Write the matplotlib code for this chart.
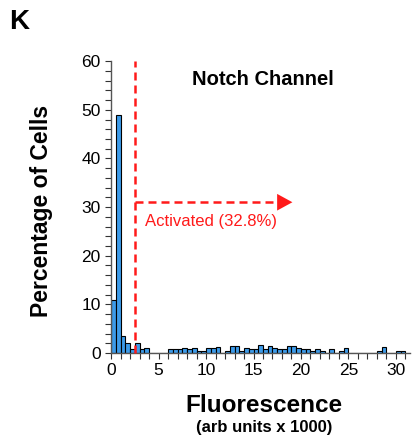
import numpy as np
import matplotlib
matplotlib.use("Agg")
import matplotlib.pyplot as plt
from matplotlib.ticker import MultipleLocator

plt.rcParams['font.family'] = ['Liberation Sans', 'DejaVu Sans']

# Гистограмма: левые края бинов (ширина 0.5) и проценты клеток
bin_width = 0.5
bin_left = np.arange(0, 31, bin_width)
pct_cells = [
    11, 49, 3.5, 2.0, 0.8, 2.0, 0.8, 1.1,      # 0 - 4
    0, 0, 0, 0,                                 # 4 - 6
    0.75, 0.75, 0.75, 1.0, 0.75, 1.1, 0.4, 0.4,  # 6 - 10
    1.0, 1.0, 1.3, 0, 0.5, 1.4, 1.4, 0.5,        # 10 - 14
    1.0, 0.8, 0.8, 1.7, 0.8, 1.4, 1.0, 0.8,      # 14 - 18
    0.8, 1.4, 1.4, 1.0, 0.8, 0.8, 0.5, 0.8,      # 18 - 22
    0.4, 0, 0.8, 0, 0.5, 1.0, 0, 0,              # 22 - 26
    0, 0, 0, 0, 0.5, 1.2, 0, 0,                  # 26 - 30
    0.5, 0.5,                                    # 30 - 31
]

threshold = 2.5
arrow_y = 31
arrow_end = 19.1
activated_label = "Activated (32.8%)"
channel_label = "Notch Channel"

fig = plt.figure(figsize=(4.18, 4.43), dpi=100)
ax = fig.add_axes([0.266, 0.203, 0.715, 0.659])

ax.bar(bin_left, pct_cells, width=bin_width, align='edge',
       color='#3d9be9', edgecolor='black', linewidth=0.8, zorder=2)

# порог активации
ax.plot([threshold, threshold], [0, 60], color='#ff1a1a', lw=1.8,
        dashes=(3.2, 2.0), zorder=3, clip_on=False)
ax.plot([threshold, arrow_end - 1.4], [arrow_y, arrow_y], color='#ff1a1a',
        lw=1.8, dashes=(3.2, 2.0), zorder=3)
ax.annotate('', xy=(arrow_end, arrow_y), xytext=(arrow_end - 1.6, arrow_y),
            arrowprops=dict(arrowstyle='-|>,head_length=1.1,head_width=0.6',
                            color='#ff1a1a', lw=0, shrinkA=0, shrinkB=0))
ax.text(3.6, 26.1, activated_label, color='#ff1a1a', fontsize=12,
        ha='left', va='baseline')
ax.text(16.0, 56.3, channel_label, fontsize=14.5, fontweight='bold',
        ha='center', va='center')

ax.set_xlim(0, 31.5)
ax.set_ylim(0, 60)
ax.xaxis.set_major_locator(MultipleLocator(5))
ax.xaxis.set_minor_locator(MultipleLocator(1))
ax.yaxis.set_major_locator(MultipleLocator(10))
ax.yaxis.set_minor_locator(MultipleLocator(2))
ax.tick_params(which='both', direction='out', length=4, width=0.8,
               labelsize=12.5, colors='#333333', labelcolor='black')
ax.spines['top'].set_visible(False)
ax.spines['right'].set_visible(False)
for s in ('left', 'bottom'):
    ax.spines[s].set_color('#555555')
    ax.spines[s].set_linewidth(1.0)

fig.text(0.10, 0.524, "Percentage of Cells", rotation=90, fontsize=16.5,
         fontweight='bold', ha='center', va='center')
fig.text(0.632, 0.085, "Fluorescence", fontsize=17.5, fontweight='bold',
         ha='center', va='center')
fig.text(0.632, 0.034, "(arb units x 1000)", fontsize=12, fontweight='bold',
         ha='center', va='center')
fig.text(0.022, 0.95, "K", fontsize=20, fontweight='bold',
         ha='left', va='center')

fig.savefig("out.png", dpi=100)
